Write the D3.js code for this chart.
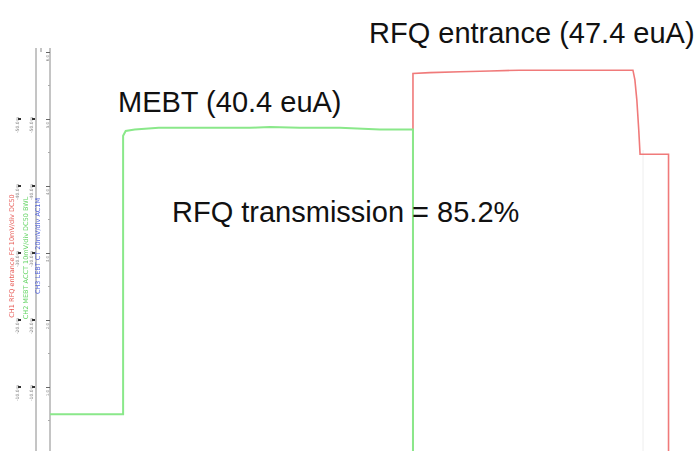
<!DOCTYPE html>
<html>
<head>
<meta charset="utf-8">
<script src="https://cdn.jsdelivr.net/npm/d3@7"></script>
<style>
  html, body { margin: 0; padding: 0; background: #fff; }
  svg { display: block; }
</style>
</head>
<body>
<svg id="chart" width="697" height="451"></svg>
<script>
// Beam current traces, time in µs, current in euA
const mebtTime    = [0, 11.3, 11.3, 11.7, 13.1, 16.8, 23.2, 30.9, 34.0, 38.6, 44.8, 51.0, 56.1, 56.1];
const mebtCurrent = [4.6, 4.6, 39.4, 40.0, 40.2, 40.4, 40.4, 40.4, 40.5, 40.4, 40.4, 40.2, 40.2, 0];

const rfqTime    = [56.1, 56.1, 58.7, 63.4, 68.0, 72.6, 78.8, 85.0, 90.1, 90.4, 90.7, 91.0, 91.2, 95.6, 95.6];
const rfqCurrent = [0, 47.2, 47.3, 47.4, 47.5, 47.6, 47.6, 47.6, 47.6, 46.4, 43.9, 40.1, 37.1, 37.1, 0];

// Scope division marks on the left scale
const divisions = [1, 2, 3, 4, 5, 6];
const channelNotes = [
  { text: "CH1  RFQ entrance  FC  10mV/div  DC50", color: "#e0302a", x: 14, y: 256 },
  { text: "CH2  MEBT  ACCT  10mV/div  DC50 BWL", color: "#39c83a", x: 28, y: 258 },
  { text: "CH3  LEBT  CT  20mV/div  AC1M", color: "#2b3fd8", x: 40, y: 246 }
];

const labels = [
  { text: "RFQ entrance (47.4 euA)", x: 369, y: 43 },
  { text: "MEBT (40.4 euA)", x: 118, y: 112 },
  { text: "RFQ transmission = 85.2%", x: 172, y: 222 }
];

const W = 697, H = 451;
const svg = d3.select("#chart");

const x = d3.scaleLinear().domain([0, 100]).range([50, 697]);
const y = d3.scaleLinear().domain([0, 47.4]).range([451, 71.8]);
const yDiv = d3.scaleLinear().domain([0, 6]).range([454, 52]);

const defs = svg.append("defs");
defs.append("filter").attr("id", "soft")
  .append("feGaussianBlur").attr("stdDeviation", 0.45);
defs.append("filter").attr("id", "haze")
  .append("feGaussianBlur").attr("stdDeviation", 0.7);

// Left scope scale
const scale = svg.append("g").attr("filter", "url(#haze)");
scale.append("line").attr("x1", 36).attr("x2", 36).attr("y1", 48).attr("y2", H)
  .attr("stroke", "#8a8a8a").attr("stroke-width", 1);
scale.append("line").attr("x1", 41).attr("x2", 41).attr("y1", 48).attr("y2", 52)
  .attr("stroke", "#8a8a8a").attr("stroke-width", 1);
const axis = scale.append("g").attr("transform", "translate(50,0)")
  .call(d3.axisLeft(yDiv).tickValues(divisions).tickSize(4).tickFormat(d => d + ".0"));
axis.select(".domain").attr("stroke", "#8a8a8a").attr("d", `M0,48V${H}`);
axis.selectAll(".tick line").attr("stroke", "#666");
axis.selectAll(".tick text")
  .attr("font-family", "DejaVu Sans").attr("font-size", 4).attr("fill", "#888")
  .attr("transform", "rotate(-90)").attr("x", 0).attr("dy", "-0.3em").attr("dx", "-0.6em");

// Minor division marks
const minor = d3.range(0, 6.01, 0.5).filter(d => d % 1 !== 0);
scale.selectAll("line.minor").data(minor).join("line")
  .attr("class", "minor")
  .attr("x1", 48).attr("x2", 50)
  .attr("y1", d => yDiv(d)).attr("y2", d => yDiv(d))
  .attr("stroke", "#aaa");

// Channel readouts on the left columns
const readGroups = [
  { x: 20, color: "#888" },
  { x: 34, color: "#888" }
];
readGroups.forEach(g => {
  divisions.slice(0, 5).forEach(d => {
    scale.append("text")
      .attr("transform", `translate(${g.x - 1},${yDiv(d) + 14}) rotate(-90)`)
      .attr("font-family", "DejaVu Sans").attr("font-size", 4.5)
      .attr("fill", g.color)
      .text("-" + (d * 10) + ".0m");
    scale.append("rect")
      .attr("x", g.x - 2).attr("y", yDiv(d) - 1).attr("width", 3).attr("height", 2)
      .attr("fill", "#333");
  });
});
channelNotes.forEach(n => {
  scale.append("text")
    .attr("transform", `translate(${n.x},${n.y}) rotate(-90)`)
    .attr("text-anchor", "middle")
    .attr("font-family", "DejaVu Sans").attr("font-size", 6.5)
    .attr("fill", n.color).attr("fill-opacity", 0.8)
    .text(n.text);
});

// Faint gate marker
svg.append("line").attr("x1", 643).attr("x2", 643).attr("y1", 150).attr("y2", H)
  .attr("stroke", "#eee").attr("stroke-width", 1);

// Traces
const line = d3.line().x(d => x(d[0])).y(d => y(d[1]));
svg.append("path")
  .datum(d3.zip(rfqTime, rfqCurrent))
  .attr("d", line)
  .attr("fill", "none").attr("stroke", "#f07a7a").attr("stroke-width", 1.6)
  .attr("filter", "url(#soft)");
svg.append("path")
  .datum(d3.zip(mebtTime, mebtCurrent))
  .attr("d", line)
  .attr("fill", "none").attr("stroke", "#8ae88a").attr("stroke-width", 2)
  .attr("filter", "url(#soft)");

// Annotations
svg.selectAll("text.label").data(labels).join("text")
  .attr("class", "label")
  .attr("x", d => d.x).attr("y", d => d.y)
  .attr("font-family", "Liberation Sans, Arial, sans-serif")
  .attr("font-size", 29)
  .attr("fill", "#111")
  .text(d => d.text);
</script>
</body>
</html>
